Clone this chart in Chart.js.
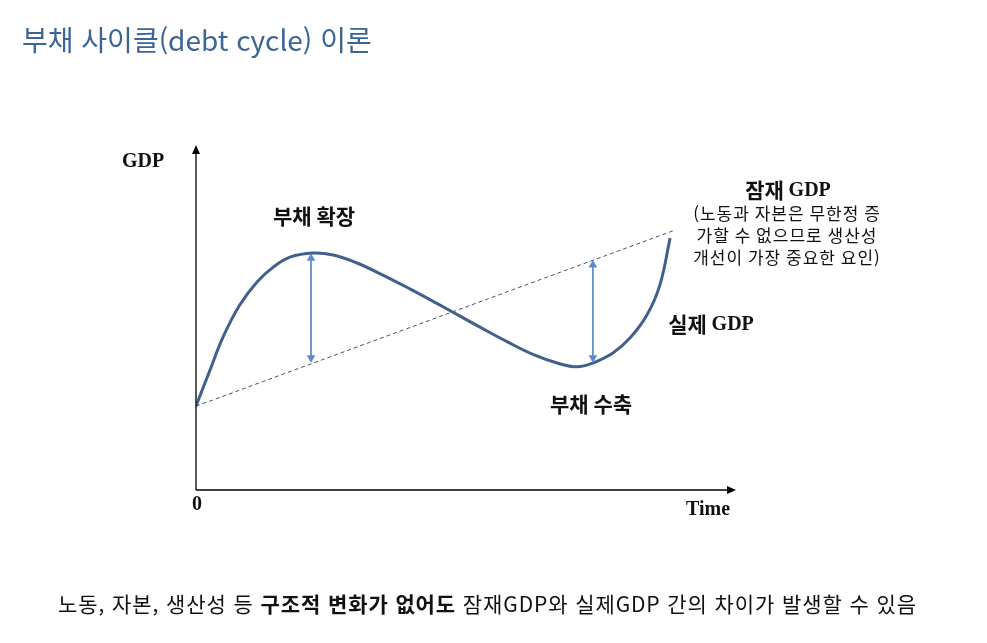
<!DOCTYPE html>
<html lang="ko">
<head>
<meta charset="utf-8">
<script src="https://cdn.jsdelivr.net/npm/chart.js@4.4.1/dist/chart.umd.min.js"></script>
<style>
    html, body { margin: 0; padding: 0; background: #fff; }
    body { width: 987px; height: 643px; position: relative; overflow: hidden; font-family: "Noto Sans CJK KR", "Noto Sans", sans-serif; }
    #title { position: absolute; left: 22px; top: 20px; font-size: 28px; color: #3b6593; white-space: nowrap; line-height: 38px; }
    #note { position: absolute; left: -6px; width: 987px; top: 588px; text-align: center; font-size: 21px; letter-spacing: 0.9px; color: #111; white-space: nowrap; line-height: 30px; }
    #note b { font-weight: 700; }
    #wrap { position: absolute; left: 0; top: 0; width: 987px; height: 643px; }
</style>
</head>
<body>
<div id="wrap"><canvas id="cycleChart"></canvas></div>
<div id="title">부채 사이클(debt cycle) 이론</div>
<div id="note">노동, 자본, 생산성 등 <b>구조적 변화가 없어도</b> 잠재GDP와 실제GDP 간의 차이가 발생할 수 있음</div>
<script>
// values, time and GDP in arbitrary units (0-100)
const timePoints = [0, 2.6, 5.0, 8.1, 11.3, 14.3, 17.4, 21.7, 25.4, 29.8, 34.6, 39.6, 44.6, 48.9, 52.6, 57.6, 62.4, 66.9, 70.6, 73.5, 77.2, 80.4, 83.5, 85.9, 87.8];
const actualGdp = [24.3, 34.8, 44.3, 53.6, 60.3, 64.6, 67.5, 68.7, 68.1, 65.8, 62.3, 58.3, 54.1, 50.4, 47.2, 43.0, 39.3, 36.8, 35.7, 36.8, 39.7, 44.1, 50.7, 59.4, 73.0];
const potentialTime = [0, 88.3];
const potentialGdp = [24.3, 75.1];
const expansionGap = { time: 21.3, top: 67.2, bottom: 38.3 };
const contractionGap = { time: 73.5, top: 65.2, bottom: 38.3 };

const toPoints = (xs, ys) => xs.map((x, i) => ({ x, y: ys[i] }));

const serifBold = 'bold 20px "Liberation Serif", "DejaVu Serif", serif';
const sansBold = 'bold 21px "Noto Sans CJK KR", sans-serif';
const sansNormal = '17px "Noto Sans CJK KR", sans-serif';

// axes with arrow heads + labels
const diagramPlugin = {
    id: "diagram",
    afterDraw(chart) {
        const { ctx, chartArea: a } = chart;
        ctx.save();
        ctx.strokeStyle = "#000";
        ctx.fillStyle = "#000";
        ctx.lineWidth = 1.3;
        ctx.beginPath();
        ctx.moveTo(a.left, a.bottom);
        ctx.lineTo(a.left, a.top + 6);
        ctx.moveTo(a.left, a.bottom);
        ctx.lineTo(a.right - 6, a.bottom);
        ctx.stroke();
        ctx.beginPath();
        ctx.moveTo(a.left, a.top);
        ctx.lineTo(a.left - 4, a.top + 9);
        ctx.lineTo(a.left + 4, a.top + 9);
        ctx.closePath();
        ctx.fill();
        ctx.beginPath();
        ctx.moveTo(a.right, a.bottom);
        ctx.lineTo(a.right - 9, a.bottom - 4);
        ctx.lineTo(a.right - 9, a.bottom + 4);
        ctx.closePath();
        ctx.fill();

        ctx.textAlign = "center";
        ctx.textBaseline = "middle";
        ctx.fillStyle = "#111";
        ctx.font = serifBold;
        ctx.fillText("GDP", a.left - 53, a.top + 17);
        ctx.fillText("0", a.left + 1, a.bottom + 15);
        ctx.fillText("Time", a.right - 28, a.bottom + 20);

        ctx.font = sansBold;
        ctx.fillText("부채 확장", 314, 216);
        ctx.fillText("부채 수축", 591, 404);

        const mixed = (kor, x, y) => {
            ctx.textAlign = "left";
            ctx.font = sansBold;
            const w1 = ctx.measureText(kor).width;
            ctx.font = serifBold;
            const w2 = ctx.measureText("GDP").width;
            const start = x - (w1 + w2) / 2;
            ctx.font = sansBold;
            ctx.fillText(kor, start, y);
            ctx.font = serifBold;
            ctx.fillText("GDP", start + w1, y + 1);
            ctx.textAlign = "center";
        };
        mixed("실제 ", 711, 324);
        mixed("잠재 ", 788, 190);

        ctx.font = sansNormal;
        ctx.letterSpacing = "1px";
        ctx.fillText("(노동과 자본은 무한정 증", 787, 214);
        ctx.fillText("가할 수 없으므로 생산성", 787, 236);
        ctx.fillText("개선이 가장 중요한 요인)", 787, 258);
        ctx.restore();
    }
};

const gapArrow = (gap) => ({
    data: [{ x: gap.time, y: gap.top }, { x: gap.time, y: gap.bottom }],
    borderColor: "#5b8cc9",
    backgroundColor: "#5b8cc9",
    borderWidth: 1,
    pointStyle: "triangle",
    pointRadius: 5,
    pointRotation: [0, 180],
    pointBorderWidth: 0,
    showLine: true,
    order: 1
});

new Chart(document.getElementById("cycleChart"), {
    type: "scatter",
    data: {
        datasets: [
            {
                label: "실제 GDP",
                data: toPoints(timePoints, actualGdp),
                borderColor: "#41608b",
                borderWidth: 3,
                pointRadius: 0,
                showLine: true,
                tension: 0.4,
                order: 2
            },
            {
                label: "잠재 GDP",
                data: toPoints(potentialTime, potentialGdp),
                borderColor: "#4a5568",
                borderWidth: 1,
                borderDash: [4, 3],
                pointRadius: 0,
                showLine: true,
                order: 3
            },
            gapArrow(expansionGap),
            gapArrow(contractionGap)
        ]
    },
    options: {
        responsive: true,
        maintainAspectRatio: false,
        animation: false,
        layout: { padding: { left: 196, right: 251, top: 145, bottom: 153 } },
        scales: {
            x: { type: "linear", min: 0, max: 100, display: false },
            y: { type: "linear", min: 0, max: 100, display: false }
        },
        plugins: { legend: { display: false }, tooltip: { enabled: false } }
    },
    plugins: [diagramPlugin]
});
</script>
</body>
</html>
